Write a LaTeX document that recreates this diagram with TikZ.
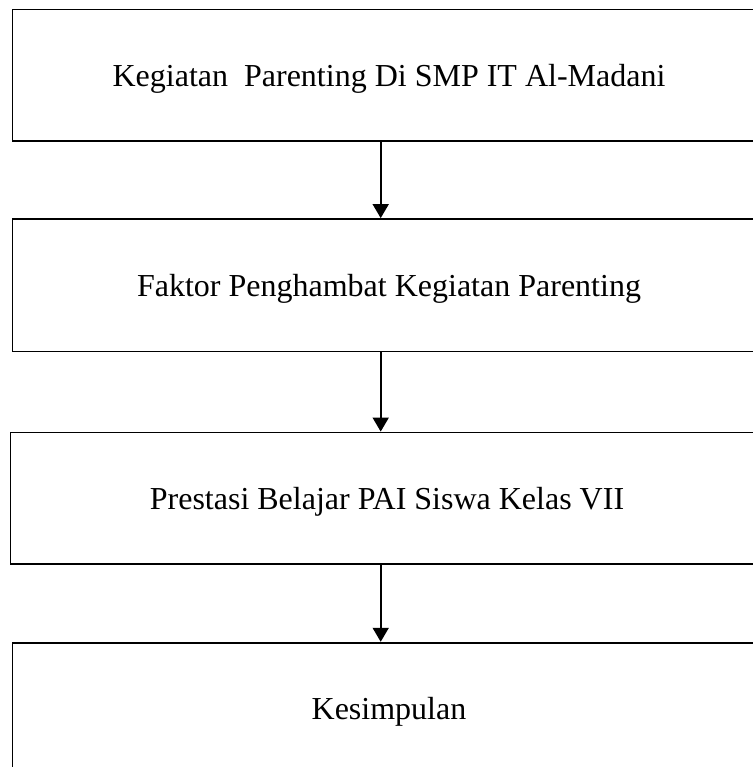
\documentclass[tikz,border=0pt]{standalone}
\usepackage{fontspec}
\setmainfont{Liberation Serif}
\usetikzlibrary{arrows.meta}
\begin{document}
\begin{tikzpicture}[x=1bp,y=-1bp,
  flowbox/.style={draw=black, line width=1.8bp, rectangle, minimum width=753bp,
    inner sep=0pt, text height=30bp, text depth=8.5bp,
    font=\fontsize{32bp}{38bp}\selectfont},
  flowarrow/.style={draw=black, line width=1.6bp, -{Triangle[width=16bp,length=14bp]}}]
\useasboundingbox (0,0) rectangle (753,767);
\clip (0,0) rectangle (753,767);
\fill[white] (0,0) rectangle (753,767);
\node[flowbox, minimum height=131.5bp] (b1) at (389,75.25) {Kegiatan\ \ Parenting Di SMP IT Al-Madani};
\node[flowbox, minimum height=132.5bp] (b2) at (389,285.25) {Faktor Penghambat Kegiatan Parenting};
\node[flowbox, minimum height=131.5bp] (b3) at (387,498.25) {Prestasi Belajar PAI Siswa Kelas VII};
\node[flowbox, minimum height=132bp] (b4) at (389,708.7) {Kesimpulan};
\coordinate (ax) at (380.7,0);
\draw[flowarrow] (b1.south -| ax) -- (b2.north -| ax);
\draw[flowarrow] (b2.south -| ax) -- (b3.north -| ax);
\draw[flowarrow] (b3.south -| ax) -- (b4.north -| ax);
\end{tikzpicture}
\end{document}
